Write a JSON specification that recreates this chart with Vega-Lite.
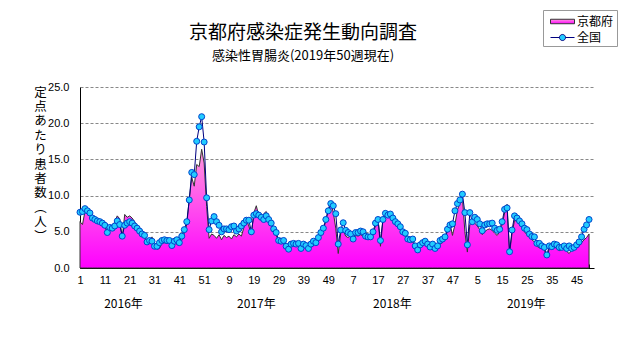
{
  "$schema": "https://vega.github.io/schema/vega-lite/v6.json",
  "width": 514,
  "height": 181,
  "autosize": "none",
  "padding": {"left": 80, "top": 87, "right": 37, "bottom": 79},
  "background": "white",
  "config": {
    "font": "Noto Sans CJK JP",
    "view": {"stroke": null},
    "axisY": {
      "values": [0, 5, 10, 15, 20, 25],
      "format": ".1f",
      "grid": true,
      "gridColor": "#888888",
      "gridDash": [3, 2],
      "ticks": false,
      "domainColor": "black",
      "labelColor": "black",
      "labelFont": "Liberation Sans",
      "labelFontSize": 11,
      "labelPadding": 11,
      "labelFlush": false,
      "labelOverlap": false,
      "titleAngle": 0,
      "titleAlign": "center",
      "titleBaseline": "top",
      "titleX": -40,
      "titleY": -1,
      "titleFontSize": 12.5,
      "titleFontWeight": "normal",
      "titleLineHeight": 14.4,
      "titleColor": "black",
      "titleFont": "Noto Sans CJK JP"
    },
    "legend": {
      "labelFont": "Noto Sans CJK JP",
      "labelFontSize": 12,
      "labelColor": "black",
      "symbolSize": 256,
      "labelOffset": 14,
      "padding": 3,
      "rowPadding": 0,
      "symbolStrokeWidth": 1
    }
  },
  "title": {
    "text": "京都府感染症発生動向調査",
    "subtitle": "感染性胃腸炎(2019年50週現在)",
    "anchor": "middle",
    "dx": -34,
    "offset": -53,
    "fontSize": 19,
    "fontWeight": "normal",
    "font": "Noto Sans CJK JP",
    "color": "black",
    "subtitleFont": "Noto Sans CJK JP",
    "subtitleFontSize": 13,
    "subtitleColor": "black",
    "subtitlePadding": 7
  },
  "data": {"values": [
    {"w":1,"kyoto":6.4,"zenkoku":7.7},{"w":2,"kyoto":6.0,"zenkoku":7.8},{"w":3,"kyoto":7.8,"zenkoku":8.2},{"w":4,"kyoto":7.5,"zenkoku":7.9},{"w":5,"kyoto":7.2,"zenkoku":7.6},
    {"w":6,"kyoto":6.9,"zenkoku":6.9},{"w":7,"kyoto":6.6,"zenkoku":6.7},{"w":8,"kyoto":6.4,"zenkoku":6.5},{"w":9,"kyoto":6.2,"zenkoku":6.4},{"w":10,"kyoto":6.0,"zenkoku":6.2},
    {"w":11,"kyoto":5.7,"zenkoku":5.9},{"w":12,"kyoto":5.0,"zenkoku":4.9},{"w":13,"kyoto":5.3,"zenkoku":5.6},{"w":14,"kyoto":5.6,"zenkoku":5.5},{"w":15,"kyoto":6.4,"zenkoku":5.8},
    {"w":16,"kyoto":7.2,"zenkoku":6.5},{"w":17,"kyoto":6.8,"zenkoku":6.0},{"w":18,"kyoto":4.1,"zenkoku":4.4},{"w":19,"kyoto":7.4,"zenkoku":5.9},{"w":20,"kyoto":7.0,"zenkoku":6.2},
    {"w":21,"kyoto":7.2,"zenkoku":6.4},{"w":22,"kyoto":6.9,"zenkoku":6.2},{"w":23,"kyoto":6.4,"zenkoku":5.8},{"w":24,"kyoto":5.7,"zenkoku":5.5},{"w":25,"kyoto":5.3,"zenkoku":5.1},
    {"w":26,"kyoto":4.8,"zenkoku":4.7},{"w":27,"kyoto":4.2,"zenkoku":4.5},{"w":28,"kyoto":3.4,"zenkoku":3.6},{"w":29,"kyoto":3.6,"zenkoku":3.8},{"w":30,"kyoto":4.3,"zenkoku":3.7},
    {"w":31,"kyoto":3.0,"zenkoku":3.0},{"w":32,"kyoto":2.6,"zenkoku":3.0},{"w":33,"kyoto":2.7,"zenkoku":3.5},{"w":34,"kyoto":3.4,"zenkoku":3.8},{"w":35,"kyoto":3.5,"zenkoku":3.9},
    {"w":36,"kyoto":3.4,"zenkoku":3.8},{"w":37,"kyoto":3.6,"zenkoku":3.8},{"w":38,"kyoto":3.2,"zenkoku":3.1},{"w":39,"kyoto":3.4,"zenkoku":3.7},{"w":40,"kyoto":3.3,"zenkoku":3.9},
    {"w":41,"kyoto":3.5,"zenkoku":3.5},{"w":42,"kyoto":3.8,"zenkoku":4.4},{"w":43,"kyoto":4.8,"zenkoku":5.3},{"w":44,"kyoto":6.0,"zenkoku":6.4},{"w":45,"kyoto":9.5,"zenkoku":9.4},
    {"w":46,"kyoto":12.5,"zenkoku":13.2},{"w":47,"kyoto":11.3,"zenkoku":12.9},{"w":48,"kyoto":14.3,"zenkoku":17.5},{"w":49,"kyoto":14.0,"zenkoku":19.5},{"w":50,"kyoto":16.4,"zenkoku":20.9},
    {"w":51,"kyoto":14.5,"zenkoku":17.4},{"w":52,"kyoto":8.5,"zenkoku":9.7},{"w":53,"kyoto":4.1,"zenkoku":5.3},{"w":54,"kyoto":4.7,"zenkoku":6.5},{"w":55,"kyoto":4.5,"zenkoku":7.1},
    {"w":56,"kyoto":4.1,"zenkoku":6.4},{"w":57,"kyoto":4.6,"zenkoku":5.9},{"w":58,"kyoto":3.9,"zenkoku":5.0},{"w":59,"kyoto":4.5,"zenkoku":5.4},{"w":60,"kyoto":4.2,"zenkoku":5.4},
    {"w":61,"kyoto":4.4,"zenkoku":5.3},{"w":62,"kyoto":4.0,"zenkoku":5.7},{"w":63,"kyoto":4.6,"zenkoku":5.8},{"w":64,"kyoto":4.3,"zenkoku":5.1},{"w":65,"kyoto":4.7,"zenkoku":5.4},
    {"w":66,"kyoto":4.4,"zenkoku":5.8},{"w":67,"kyoto":5.6,"zenkoku":6.2},{"w":68,"kyoto":6.6,"zenkoku":6.6},{"w":69,"kyoto":5.8,"zenkoku":6.6},{"w":70,"kyoto":4.6,"zenkoku":5.0},
    {"w":71,"kyoto":7.6,"zenkoku":7.3},{"w":72,"kyoto":8.6,"zenkoku":7.5},{"w":73,"kyoto":7.2,"zenkoku":7.3},{"w":74,"kyoto":6.9,"zenkoku":7.0},{"w":75,"kyoto":7.5,"zenkoku":6.7},
    {"w":76,"kyoto":7.8,"zenkoku":7.2},{"w":77,"kyoto":7.0,"zenkoku":6.7},{"w":78,"kyoto":6.0,"zenkoku":6.2},{"w":79,"kyoto":5.0,"zenkoku":5.4},{"w":80,"kyoto":4.5,"zenkoku":4.9},
    {"w":81,"kyoto":3.8,"zenkoku":3.8},{"w":82,"kyoto":3.5,"zenkoku":3.7},{"w":83,"kyoto":3.6,"zenkoku":3.8},{"w":84,"kyoto":2.9,"zenkoku":3.0},{"w":85,"kyoto":2.3,"zenkoku":2.6},
    {"w":86,"kyoto":3.0,"zenkoku":3.3},{"w":87,"kyoto":3.2,"zenkoku":3.4},{"w":88,"kyoto":3.2,"zenkoku":3.3},{"w":89,"kyoto":3.1,"zenkoku":3.4},{"w":90,"kyoto":2.5,"zenkoku":2.7},
    {"w":91,"kyoto":3.1,"zenkoku":3.3},{"w":92,"kyoto":2.9,"zenkoku":3.1},{"w":93,"kyoto":2.6,"zenkoku":2.7},{"w":94,"kyoto":3.2,"zenkoku":3.3},{"w":95,"kyoto":3.4,"zenkoku":3.7},
    {"w":96,"kyoto":3.2,"zenkoku":3.5},{"w":97,"kyoto":4.0,"zenkoku":4.2},{"w":98,"kyoto":4.6,"zenkoku":4.9},{"w":99,"kyoto":5.3,"zenkoku":5.5},{"w":100,"kyoto":6.5,"zenkoku":6.7},
    {"w":101,"kyoto":8.2,"zenkoku":7.9},{"w":102,"kyoto":9.0,"zenkoku":8.9},{"w":103,"kyoto":7.7,"zenkoku":8.6},{"w":104,"kyoto":5.5,"zenkoku":7.5},{"w":105,"kyoto":2.0,"zenkoku":3.3},
    {"w":106,"kyoto":4.8,"zenkoku":5.25},{"w":107,"kyoto":5.2,"zenkoku":6.25},{"w":108,"kyoto":4.4,"zenkoku":5.2},{"w":109,"kyoto":4.2,"zenkoku":4.9},{"w":110,"kyoto":4.5,"zenkoku":4.7},
    {"w":111,"kyoto":3.8,"zenkoku":4.0},{"w":112,"kyoto":4.5,"zenkoku":4.9},{"w":113,"kyoto":4.4,"zenkoku":4.9},{"w":114,"kyoto":4.6,"zenkoku":5.1},{"w":115,"kyoto":4.4,"zenkoku":5.0},
    {"w":116,"kyoto":4.0,"zenkoku":4.4},{"w":117,"kyoto":4.2,"zenkoku":4.3},{"w":118,"kyoto":4.1,"zenkoku":4.3},{"w":119,"kyoto":4.8,"zenkoku":5.0},{"w":120,"kyoto":5.8,"zenkoku":6.2},
    {"w":121,"kyoto":6.8,"zenkoku":6.7},{"w":122,"kyoto":3.0,"zenkoku":3.8},{"w":123,"kyoto":6.6,"zenkoku":6.7},{"w":124,"kyoto":7.9,"zenkoku":7.55},{"w":125,"kyoto":7.5,"zenkoku":7.3},
    {"w":126,"kyoto":7.6,"zenkoku":7.45},{"w":127,"kyoto":7.0,"zenkoku":6.9},{"w":128,"kyoto":6.4,"zenkoku":6.4},{"w":129,"kyoto":6.0,"zenkoku":6.1},{"w":130,"kyoto":5.3,"zenkoku":5.7},
    {"w":131,"kyoto":4.6,"zenkoku":5.0},{"w":132,"kyoto":4.4,"zenkoku":4.8},{"w":133,"kyoto":3.7,"zenkoku":4.0},{"w":134,"kyoto":3.8,"zenkoku":3.9},{"w":135,"kyoto":3.6,"zenkoku":4.0},
    {"w":136,"kyoto":2.9,"zenkoku":3.05},{"w":137,"kyoto":2.1,"zenkoku":2.5},{"w":138,"kyoto":2.8,"zenkoku":3.2},{"w":139,"kyoto":3.2,"zenkoku":3.5},{"w":140,"kyoto":3.4,"zenkoku":3.7},
    {"w":141,"kyoto":3.0,"zenkoku":3.3},{"w":142,"kyoto":2.6,"zenkoku":2.9},{"w":143,"kyoto":3.0,"zenkoku":3.3},{"w":144,"kyoto":2.5,"zenkoku":2.7},{"w":145,"kyoto":2.9,"zenkoku":3.05},
    {"w":146,"kyoto":3.3,"zenkoku":3.8},{"w":147,"kyoto":3.5,"zenkoku":4.0},{"w":148,"kyoto":4.3,"zenkoku":4.3},{"w":149,"kyoto":5.0,"zenkoku":5.35},{"w":150,"kyoto":6.2,"zenkoku":5.95},
    {"w":151,"kyoto":4.5,"zenkoku":6.1},{"w":152,"kyoto":6.0,"zenkoku":7.9},{"w":153,"kyoto":8.0,"zenkoku":8.9},{"w":154,"kyoto":9.0,"zenkoku":9.4},{"w":155,"kyoto":9.8,"zenkoku":10.2},
    {"w":156,"kyoto":5.0,"zenkoku":7.65},{"w":157,"kyoto":2.2,"zenkoku":3.2},{"w":158,"kyoto":6.0,"zenkoku":7.65},{"w":159,"kyoto":6.3,"zenkoku":6.4},{"w":160,"kyoto":6.2,"zenkoku":7.0},
    {"w":161,"kyoto":5.8,"zenkoku":6.7},{"w":162,"kyoto":5.3,"zenkoku":6.1},{"w":163,"kyoto":4.6,"zenkoku":5.15},{"w":164,"kyoto":5.0,"zenkoku":5.95},{"w":165,"kyoto":5.3,"zenkoku":6.1},
    {"w":166,"kyoto":5.4,"zenkoku":6.1},{"w":167,"kyoto":5.2,"zenkoku":6.2},{"w":168,"kyoto":4.8,"zenkoku":5.5},{"w":169,"kyoto":4.5,"zenkoku":5.2},{"w":170,"kyoto":5.0,"zenkoku":5.35},
    {"w":171,"kyoto":6.0,"zenkoku":6.4},{"w":172,"kyoto":7.6,"zenkoku":8.1},{"w":173,"kyoto":8.8,"zenkoku":8.3},{"w":174,"kyoto":2.0,"zenkoku":2.25},{"w":175,"kyoto":4.8,"zenkoku":5.25},
    {"w":176,"kyoto":6.6,"zenkoku":7.2},{"w":177,"kyoto":6.4,"zenkoku":6.9},{"w":178,"kyoto":6.0,"zenkoku":6.5},{"w":179,"kyoto":5.7,"zenkoku":6.1},{"w":180,"kyoto":5.0,"zenkoku":5.5},
    {"w":181,"kyoto":4.6,"zenkoku":5.3},{"w":182,"kyoto":4.2,"zenkoku":4.7},{"w":183,"kyoto":3.9,"zenkoku":4.35},{"w":184,"kyoto":3.6,"zenkoku":4.3},{"w":185,"kyoto":3.0,"zenkoku":3.4},
    {"w":186,"kyoto":2.8,"zenkoku":3.4},{"w":187,"kyoto":2.7,"zenkoku":3.05},{"w":188,"kyoto":2.5,"zenkoku":2.85},{"w":189,"kyoto":1.5,"zenkoku":1.8},{"w":190,"kyoto":2.7,"zenkoku":3.05},
    {"w":191,"kyoto":2.6,"zenkoku":2.95},{"w":192,"kyoto":2.9,"zenkoku":3.3},{"w":193,"kyoto":2.7,"zenkoku":3.2},{"w":194,"kyoto":2.4,"zenkoku":2.85},{"w":195,"kyoto":2.6,"zenkoku":2.85},
    {"w":196,"kyoto":2.7,"zenkoku":3.05},{"w":197,"kyoto":2.3,"zenkoku":2.7},{"w":198,"kyoto":2.0,"zenkoku":3.05},{"w":199,"kyoto":2.5,"zenkoku":2.7},{"w":200,"kyoto":2.6,"zenkoku":2.85},
    {"w":201,"kyoto":2.8,"zenkoku":3.2},{"w":202,"kyoto":3.0,"zenkoku":3.6},{"w":203,"kyoto":3.5,"zenkoku":4.3},{"w":204,"kyoto":3.9,"zenkoku":5.35},{"w":205,"kyoto":4.2,"zenkoku":5.95},
    {"w":206,"kyoto":4.7,"zenkoku":6.7}
  ]},
  "layer": [
    {
      "mark": {
        "type": "area",
        "fill": {"gradient": "linear", "x1": 0, "y1": 0, "x2": 0, "y2": 1,
                 "stops": [{"offset": 0, "color": "#ff99dd"}, {"offset": 1, "color": "#ff00ff"}]},
        "fillOpacity": 1,
        "strokeWidth": 1
      },
      "encoding": {
        "x": {
          "field": "w", "type": "quantitative",
          "scale": {"domain": [1, 208], "nice": false, "zero": false},
          "axis": {
            "title": null,
            "values": [1,6,11,16,21,26,31,36,41,46,51,56,61,66,71,76,81,86,91,96,101,106,111,116,121,126,131,136,141,146,151,156,161,166,171,176,181,186,191,196,201,206],
            "labelExpr": "(datum.value - 1) % 10 === 0 ? '' + ((datum.value - 1) % 52 + 1) : ''",
            "grid": false,
            "tickSize": -4,
            "tickColor": "black",
            "domainColor": "black",
            "labelColor": "black",
            "labelFont": "Liberation Sans",
            "labelFontSize": 11,
            "labelPadding": 10,
            "labelFlush": false,
            "labelOverlap": false
          }
        },
        "y": {
          "field": "kyoto", "type": "quantitative",
          "scale": {"domain": [0, 25], "nice": false},
          "title": ["定","点","あ","た","り","患","者","数","︵","人","︶"]
        },
        "stroke": {
          "datum": "京都府",
          "scale": {"domain": ["京都府"], "range": ["#333333"]},
          "legend": {
            "orient": "none",
            "legendX": 463,
            "legendY": -77,
            "title": " ",
            "titleOrient": "bottom",
            "titleFontSize": 13,
            "titlePadding": 2,
            "strokeColor": "#999999",
            "fillColor": "white",
            "symbolType": "M-0.5,-0.28H2.5V0.28H-0.5Z"
          }
        }
      }
    },
    {
      "mark": {"type": "line", "strokeWidth": 1},
      "encoding": {
        "x": {
          "field": "w", "type": "quantitative",
          "axis": {
            "orient": "bottom",
            "title": null,
            "values": [18.3, 71.8, 126.6, 180.5],
            "labelExpr": "datum.value < 50 ? '2016年' : datum.value < 100 ? '2017年' : datum.value < 150 ? '2018年' : '2019年'",
            "ticks": false,
            "domain": false,
            "grid": false,
            "labelPadding": 30,
            "labelFont": "Noto Sans CJK JP",
            "labelFontSize": 12,
            "labelColor": "black",
            "labelFlush": false,
            "labelOverlap": false
          }
        },
        "y": {"field": "zenkoku", "type": "quantitative", "title": ["定","点","あ","た","り","患","者","数","︵","人","︶"]},
        "color": {
          "datum": "全国",
          "scale": {"domain": ["全国"], "range": ["#000080"]},
          "legend": {
            "orient": "none",
            "legendX": 463,
            "legendY": -61,
            "title": null,
            "symbolType": "M-0.5,0H0.62M1.38,0H2.5M0.62,0A0.38,0.38 0 1,1 1.38,0A0.38,0.38 0 1,1 0.62,0Z",
            "symbolFillColor": "#22ccff",
            "symbolStrokeColor": "#000080"
          }
        }
      }
    },
    {
      "mark": {"type": "point", "filled": true, "fill": "#22ccff", "stroke": "#0044cc", "strokeWidth": 1, "size": 36, "opacity": 1},
      "encoding": {
        "x": {"field": "w", "type": "quantitative", "axis": null},
        "y": {"field": "zenkoku", "type": "quantitative", "title": ["定","点","あ","た","り","患","者","数","︵","人","︶"]}
      }
    }
  ],
  "resolve": {"axis": {"x": "independent"}}
}
